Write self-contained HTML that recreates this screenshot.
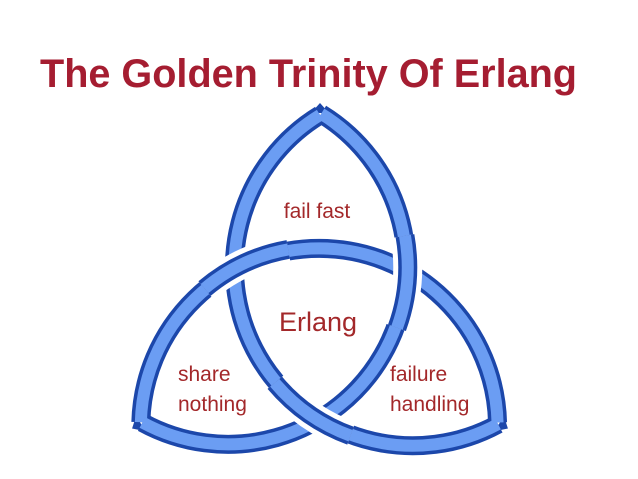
<!DOCTYPE html>
<html><head><meta charset="utf-8"><style>html,body{margin:0;padding:0;background:#fff;width:638px;height:479px;overflow:hidden}svg{display:block}</style></head>
<body>
<svg width="638" height="479" viewBox="0 0 638 479" xmlns="http://www.w3.org/2000/svg" style="overflow:hidden">
<defs>
<path id="arc" d="M 320 115 A 178.4 178.4 0 0 0 498 424.1" fill="none"/>
<path id="over" d="M 274.8 382.8 A 178.4 178.4 0 0 0 350.5 435.7" fill="none"/>
<polygon id="tip" points="311,113 329,113 320,103"/>
</defs>
<g fill="none">
<g stroke="#1c47aa" stroke-width="19">
<use href="#arc"/><use href="#arc" transform="rotate(120 320 320)"/><use href="#arc" transform="rotate(240 320 320)"/>
</g>
<g fill="#1c47aa" stroke="none">
<use href="#tip"/><use href="#tip" transform="rotate(120 320 320)"/><use href="#tip" transform="rotate(240 320 320)"/>
</g>
<g stroke="#6b9df3" stroke-width="12">
<use href="#arc"/><use href="#arc" transform="rotate(120 320 320)"/><use href="#arc" transform="rotate(240 320 320)"/>
</g>
<g stroke="#fff" stroke-width="29">
<use href="#over"/><use href="#over" transform="rotate(120 320 320)"/><use href="#over" transform="rotate(240 320 320)"/>
</g>
<g stroke="#1c47aa" stroke-width="19">
<use href="#over"/><use href="#over" transform="rotate(120 320 320)"/><use href="#over" transform="rotate(240 320 320)"/>
</g>
<g stroke="#6b9df3" stroke-width="12">
<use href="#over"/><use href="#over" transform="rotate(120 320 320)"/><use href="#over" transform="rotate(240 320 320)"/>
</g>
</g>
<text x="40" y="87" font-family="'Liberation Sans',sans-serif" font-weight="bold" font-size="40" fill="#a51d31" textLength="537" lengthAdjust="spacingAndGlyphs">The Golden Trinity Of Erlang</text>
<g font-family="'Liberation Sans',sans-serif" fill="#a3282a">
<text x="317" y="218" font-size="21" text-anchor="middle">fail fast</text>
<text x="318" y="331" font-size="27" text-anchor="middle">Erlang</text>
<text x="178" y="381" font-size="21">share</text>
<text x="178" y="411" font-size="21">nothing</text>
<text x="390" y="381" font-size="21">failure</text>
<text x="390" y="411" font-size="21">handling</text>
</g>
</svg>
</body></html>
